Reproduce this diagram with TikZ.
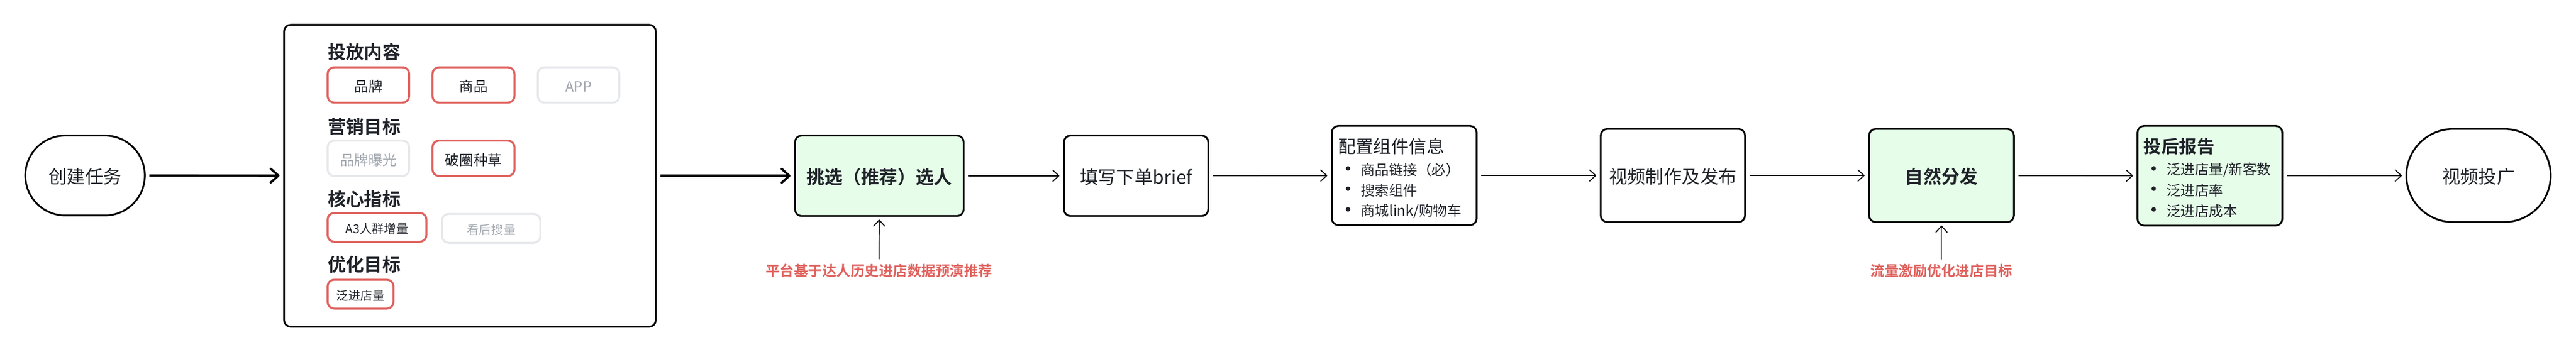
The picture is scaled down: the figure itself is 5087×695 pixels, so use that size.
\documentclass[tikz,border=0pt]{standalone}
\usepackage{fontspec}
\setmainfont{Noto Sans CJK SC}[BoldFont={Noto Sans CJK SC Bold}]
\usetikzlibrary{arrows.meta}

\definecolor{inkblack}{HTML}{1F2329}
\definecolor{notered}{HTML}{E0625E}
\definecolor{offgrey}{HTML}{E6E8EB}
\definecolor{offtext}{HTML}{A2A7AE}
\definecolor{stepgreen}{HTML}{E6FDE9}

\tikzset{
  stepbox/.style={draw=black,line width=3.5pt,rounded corners=13pt,outer sep=0pt,inner sep=0pt,
    text=inkblack,text height=40pt,text depth=7.6pt,font=\fontsize{36}{40}\selectfont},
  greenbox/.style={stepbox,fill=stepgreen,font=\fontsize{36}{40}\selectfont\bfseries},
  endbox/.style={stepbox,rounded corners=#1},
  onpill/.style={draw=notered,line width=4pt,rounded corners=13pt,outer sep=0pt,inner sep=0pt,text=inkblack},
  offpill/.style={draw=offgrey,line width=4pt,rounded corners=13pt,outer sep=0pt,inner sep=0pt,text=offtext},
  bigtext/.style={text height=30pt,text depth=2.8pt,font=\fontsize{28}{32}\selectfont},
  smalltext/.style={text height=28pt,text depth=4pt,font=\fontsize{24}{28}\selectfont},
  heading/.style={anchor=west,inner sep=0pt,text=inkblack,font=\fontsize{36}{40}\selectfont\bfseries},
  listhead/.style={anchor=west,inner sep=0pt,text=inkblack},
  listitem/.style={anchor=west,inner sep=0pt,text=inkblack,font=\fontsize{28}{32}\selectfont},
  listdot/.style={circle,fill=inkblack,inner sep=0pt,minimum size=9pt},
  rednote/.style={inner sep=0pt,text=notered,font=\fontsize{28}{32}\selectfont\bfseries},
  thickflow/.style={line width=4.5pt,-{Straight Barb[round,length=15pt,width=27pt,line width=4.5pt]},shorten <=9pt,shorten >=9pt},
  flow/.style={line width=2.2pt,-{Straight Barb[round,length=12pt,width=22pt,line width=2pt]},shorten <=9pt,shorten >=9pt},
  upflow/.style={line width=2pt,-{Straight Barb[round,length=12pt,width=22pt,line width=2pt]},shorten <=9pt,shorten >=7pt},
}

\begin{document}
\begin{tikzpicture}[x=1pt,y=-1pt]
\useasboundingbox (0,0) rectangle (5087,695);

% main row
\node[endbox=79pt,minimum width=236pt,minimum height=158pt] (create) at (168,347) {创建任务};
\node[stepbox,minimum width=734pt,minimum height=597pt] (settings) at (928,347.5) {};
\node[greenbox,minimum width=333pt,minimum height=159pt] (pick) at (1736.5,347.5) {挑选（推荐）选人};
\node[stepbox,minimum width=285pt,minimum height=159pt] (brief) at (2243.5,347.5) {填写下单brief};
\node[stepbox,minimum width=286pt,minimum height=196pt] (config) at (2773,347) {};
\node[stepbox,minimum width=285pt,minimum height=184pt] (video) at (3303.5,347) {视频制作及发布};
\node[greenbox,minimum width=286pt,minimum height=184pt] (organic) at (3834,347) {自然分发};
\node[greenbox,minimum width=286pt,minimum height=197pt] (report) at (4364,347.5) {};
\node[endbox=92pt,minimum width=285pt,minimum height=184pt] (promo) at (4894.5,347) {视频投广};

% settings panel
\node[heading] (contenthead) at (647,103) {投放内容};
\node[onpill,bigtext,minimum width=161pt,minimum height=70pt] (brand) at (727.5,168) {品牌};
\node[onpill,bigtext,minimum width=162pt,minimum height=70pt] (goods) at (935,168) {商品};
\node[offpill,bigtext,minimum width=161pt,minimum height=70pt] (app) at (1142.5,168) {APP};

\node[heading] (goalhead) at (647,250) {营销目标};
\node[offpill,bigtext,minimum width=161pt,minimum height=70pt] (exposure) at (727.5,313) {品牌曝光};
\node[onpill,bigtext,minimum width=162pt,minimum height=70pt] (seeding) at (935,313) {破圈种草};

\node[heading] (corehead) at (647,394) {核心指标};
\node[onpill,smalltext,minimum width=195pt,minimum height=57pt] (crowd) at (744.5,449.5) {A3人群增量};
\node[offpill,smalltext,minimum width=194pt,minimum height=57pt] (search) at (970,451.5) {看后搜量};

\node[heading] (optimhead) at (647,523) {优化目标};
\node[onpill,smalltext,minimum width=130pt,minimum height=57pt] (stores) at (712,581.5) {泛进店量};

% lists
\node[listhead,font=\fontsize{35}{40}\selectfont] (confighead) at (2642,289) {配置组件信息};
\node[listdot] (dota) at (2662,333) {};
\node[listitem] (itema) at (2687,336) {商品链接（必）};
\node[listdot] (dotb) at (2662,373) {};
\node[listitem] (itemb) at (2687,376) {搜索组件};
\node[listdot] (dotc) at (2662,414) {};
\node[listitem] (itemc) at (2687,417) {商城link/购物车};

\node[listhead,font=\fontsize{35}{40}\selectfont\bfseries] (reporthead) at (4233,289) {投后报告};
\node[listdot] (dotd) at (4253,333) {};
\node[listitem] (itemd) at (4278,336) {泛进店量/新客数};
\node[listdot] (dote) at (4253,373) {};
\node[listitem] (iteme) at (4278,376) {泛进店率};
\node[listdot] (dotf) at (4253,414) {};
\node[listitem] (itemf) at (4278,417) {泛进店成本};

% notes
\node[rednote] (picknote) at (1736,535) {平台基于达人历史进店数据预演推荐};
\node[rednote] (organicnote) at (3834,535) {流量激励优化进店目标};

% arrows
\draw[thickflow] (create) -- (settings);
\draw[thickflow] (settings) -- (pick);
\draw[flow] (pick) -- (brief);
\draw[flow] (brief) -- (config);
\draw[flow] (config) -- (video);
\draw[flow] (video) -- (organic);
\draw[flow] (organic) -- (report);
\draw[flow] (report) -- (promo);
\draw[upflow] (picknote) -- (pick);
\draw[upflow] (organicnote) -- (organic);
\end{tikzpicture}
\end{document}
